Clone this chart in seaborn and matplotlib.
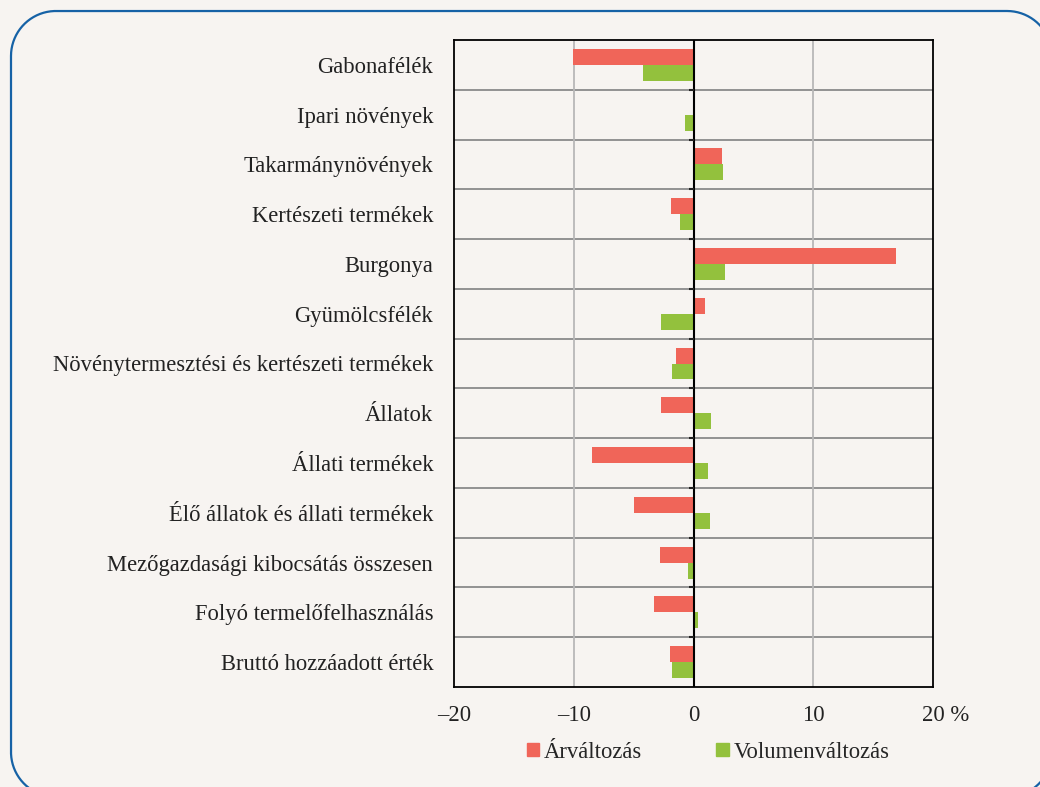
import numpy as np
import pandas as pd
import matplotlib
matplotlib.use("Agg")
import matplotlib.pyplot as plt
import matplotlib.patches as mpatches
from matplotlib.lines import Line2D
from matplotlib.transforms import ScaledTranslation
import seaborn as sns

categories = [
    "Gabonafélék",
    "Ipari növények",
    "Takarmánynövények",
    "Kertészeti termékek",
    "Burgonya",
    "Gyümölcsfélék",
    "Növénytermesztési és kertészeti termékek",
    "Állatok",
    "Állati termékek",
    "Élő állatok és állati termékek",
    "Mezőgazdasági kibocsátás összesen",
    "Folyó termelőfelhasználás",
    "Bruttó hozzáadott érték",
]
arvaltozas = [-10.1, 0.0, 2.4, -1.9, 16.9, 1.0, -1.5, -2.7, -8.5, -5.0, -2.8, -3.3, -2.0]
volumenvaltozas = [-4.2, -0.7, 2.5, -1.1, 2.6, -2.7, -1.8, 1.5, 1.2, 1.4, -0.5, 0.4, -1.8]
series_names = ["Árváltozás", "Volumenváltozás"]
xticks = [-20, -10, 0, 10, 20]
xticklabels = ["–20", "–10", "0", "10", "20 %"]

colors = ["#f06559", "#93c13d"]
bg = "#f7f4f1"
FS = 16.3

df = pd.DataFrame({
    "kategoria": categories * 2,
    "ertek": arvaltozas + volumenvaltozas,
    "sorozat": [series_names[0]] * len(categories) + [series_names[1]] * len(categories),
})

sns.set_style("white")
plt.rcParams["font.family"] = ["Liberation Serif", "DejaVu Serif"]

fig = plt.figure(figsize=(10.4, 7.87), dpi=100, facecolor=bg)
ax = fig.add_axes([454 / 1040, 1 - 687 / 787, (933 - 454) / 1040, (687 - 40) / 787])
ax.set_facecolor(bg)

sns.barplot(data=df, y="kategoria", x="ertek", hue="sorozat", order=categories,
            hue_order=series_names, palette=colors, width=0.64, orient="h",
            linewidth=0, saturation=1, ax=ax, zorder=3)

n = len(categories)
ax.set_xlim(-20, 20)
ax.set_ylim(n - 0.5, -0.5)

# grid
for b in np.arange(0.5, n - 0.5, 1.0):
    ax.axhline(b, color="#8a8a8a", lw=1.3, zorder=1)
for t in xticks:
    if t not in (0, xticks[0], xticks[-1]):
        ax.axvline(t, color="#b8b8b8", lw=1.3, zorder=1)
ax.axvline(0, color="black", lw=1.5, zorder=4)
# small ticks on zero line at category boundaries
for b in np.arange(0.5, n - 0.5, 1.0):
    ax.plot([-0.35, 0], [b, b], color="#222222", lw=1.5, zorder=4, solid_capstyle="butt")

for s in ax.spines.values():
    s.set_color("black")
    s.set_linewidth(1.3)
    s.set_visible(True)

ax.set_xticks(xticks)
ax.set_xticklabels(xticklabels, fontsize=FS, color="#222222")
ax.tick_params(axis="x", direction="out", length=5, width=1.3, color="black", pad=8)
ax.tick_params(axis="y", length=0, pad=15, labelsize=FS, labelcolor="#222222")
ax.set_xlabel("")
ax.set_ylabel("")
for lbl in ax.get_xticklabels():
    if lbl.get_text().endswith("%"):
        lbl.set_horizontalalignment("left")
        lbl.set_transform(lbl.get_transform() + ScaledTranslation(-11 / 100, 0, fig.dpi_scale_trans))

ax.get_legend().remove()
handles = [mpatches.Patch(color=c) for c in colors]
fig.legend(handles, series_names, loc="center", bbox_to_anchor=(708 / 1040, 1 - 752 / 787),
           ncol=2, frameon=False, fontsize=FS, handlelength=0.55, handleheight=0.55,
           handletextpad=0.2, columnspacing=3.3, borderpad=0, borderaxespad=0)

# rounded frame (sampled arcs, in pixels)
x0, x1, y0, y1, r = 11, 1052, -10, 776, 45
pts = []
for cx, cy, a0 in [(x1 - r, y1 - r, 0), (x0 + r, y1 - r, 90), (x0 + r, y0 + r, 180), (x1 - r, y0 + r, 270)]:
    ang = np.deg2rad(np.linspace(a0, a0 + 90, 40))
    pts.extend(zip(cx + r * np.cos(ang), cy + r * np.sin(ang)))
pts.append(pts[0])
px, py = zip(*pts)
frame = Line2D(np.array(px) / 100, np.array(py) / 100, transform=fig.dpi_scale_trans,
               color="#1662a6", lw=1.6)
fig.lines.append(frame)

fig.savefig("out.png", dpi=100, facecolor=bg)
